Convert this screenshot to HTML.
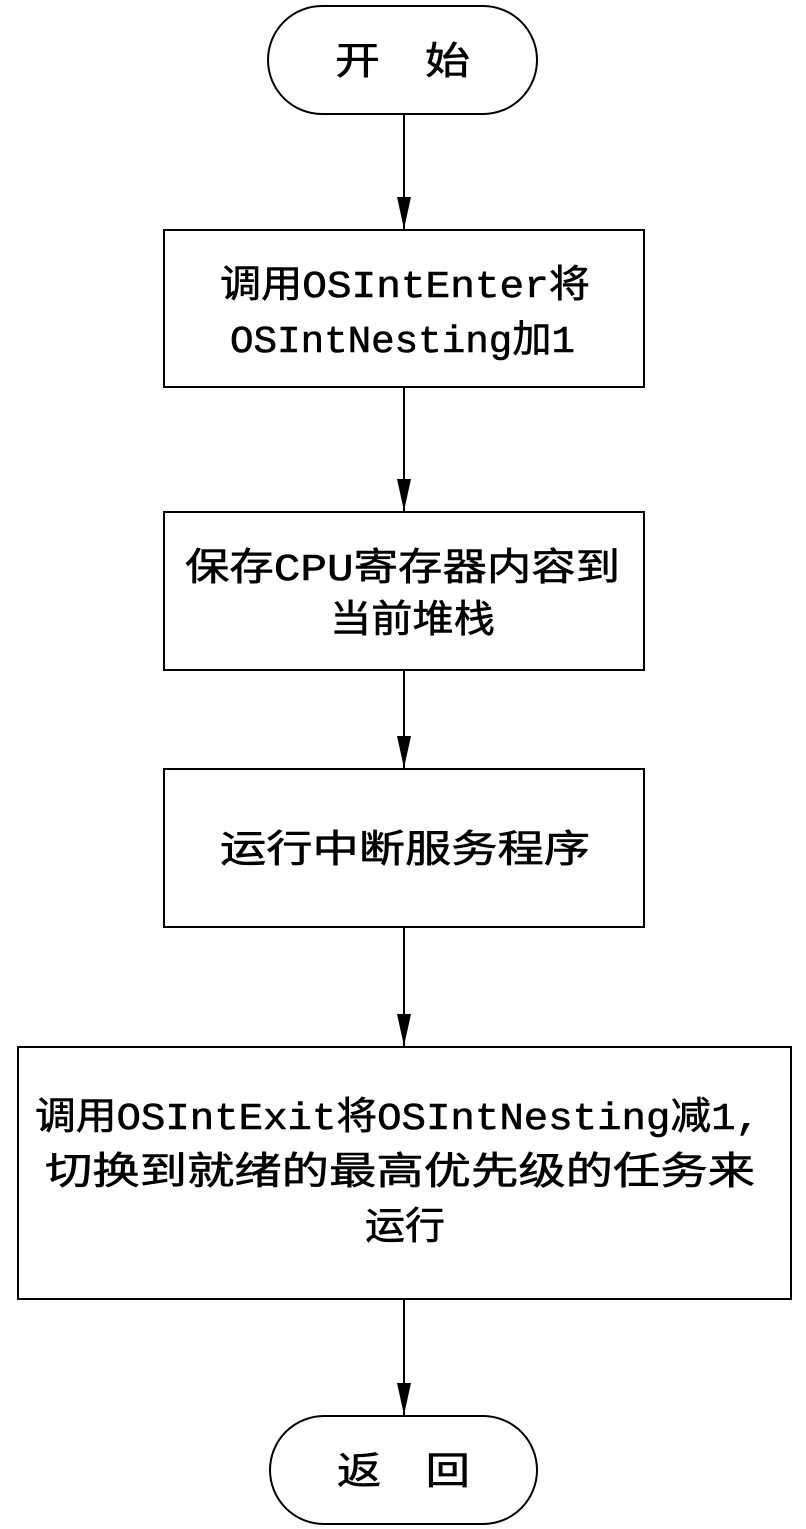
<!DOCTYPE html>
<html><head><meta charset="utf-8"><style>
html,body{margin:0;padding:0;background:#fff;}
svg{display:block;}
text{font-family:"Liberation Mono","Noto Sans CJK SC",monospace;font-size:38px;fill:#000;stroke:#000;stroke-width:0.6;}
</style></head><body>
<svg width="806" height="1529" viewBox="0 0 806 1529" xmlns="http://www.w3.org/2000/svg">
<defs><marker id="a" markerWidth="32" markerHeight="16" refX="32" refY="8" orient="auto" markerUnits="userSpaceOnUse"><path d="M0,1 L32,8 L0,15 Z" fill="#000"/></marker></defs>
<g fill="none" stroke="#000" stroke-width="2">
<rect x="268" y="6" width="269" height="108" rx="54"/>
<rect x="164" y="230" width="480" height="157"/>
<rect x="164" y="512" width="480" height="158"/>
<rect x="164" y="769" width="480" height="158"/>
<rect x="18" y="1047" width="773" height="252"/>
<rect x="270" y="1416" width="267" height="108" rx="54"/>
<line x1="404" y1="114" x2="404" y2="229" marker-end="url(#a)"/>
<line x1="404" y1="387" x2="404" y2="511" marker-end="url(#a)"/>
<line x1="404" y1="670" x2="404" y2="768" marker-end="url(#a)"/>
<line x1="404" y1="927" x2="404" y2="1046" marker-end="url(#a)"/>
<line x1="404" y1="1299" x2="404" y2="1415" marker-end="url(#a)"/>
</g>
<text x="335" y="74" textLength="135" lengthAdjust="spacingAndGlyphs">开　始</text>
<text x="220" y="297" textLength="370" lengthAdjust="spacingAndGlyphs">调用OSIntEnter将</text>
<text x="230" y="352" textLength="345" lengthAdjust="spacingAndGlyphs">OSIntNesting加1</text>
<text x="185" y="580" textLength="435" lengthAdjust="spacingAndGlyphs">保存CPU寄存器内容到</text>
<text x="330" y="632" textLength="165" lengthAdjust="spacingAndGlyphs">当前堆栈</text>
<text x="220" y="862" textLength="370" lengthAdjust="spacingAndGlyphs">运行中断服务程序</text>
<text x="35" y="1129" textLength="725" lengthAdjust="spacingAndGlyphs">调用OSIntExit将OSIntNesting减1,</text>
<text x="45" y="1184" textLength="710" lengthAdjust="spacingAndGlyphs">切换到就绪的最高优先级的任务来</text>
<text x="365" y="1239" textLength="80" lengthAdjust="spacingAndGlyphs">运行</text>
<text x="337" y="1484" textLength="133" lengthAdjust="spacingAndGlyphs">返　回</text>
</svg>
</body></html>
